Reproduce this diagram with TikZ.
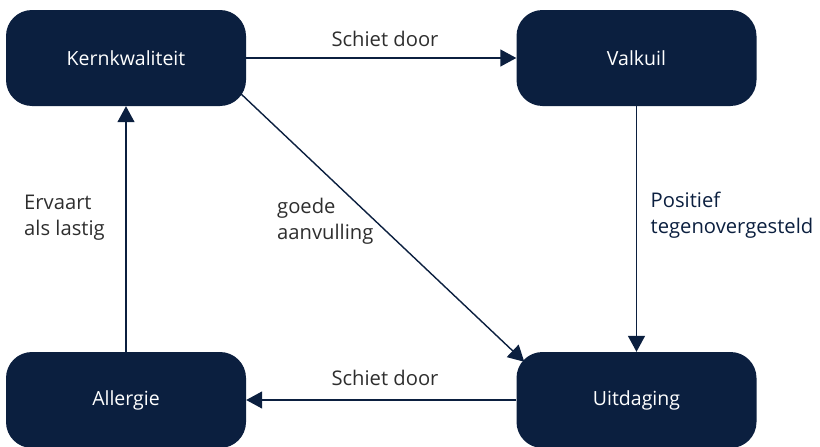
\documentclass[tikz,border=0pt]{standalone}
\usepackage{fontspec}
\setmainfont{Open Sans}
\usetikzlibrary{arrows.meta,calc}
\definecolor{navy}{HTML}{0B1F3F}
\definecolor{labelgray}{HTML}{2E2E2E}
\begin{document}
\begin{tikzpicture}[x=1pt,y=-1pt,
  box/.style={fill=navy,rounded corners=26pt,minimum width=240pt,minimum height=96pt,
    text=white,font=\fontsize{19.5}{23}\selectfont,inner sep=0pt},
  conn/.style={draw=navy,line width=1.4pt,-{Triangle[length=16pt,width=17pt]}},
  lbl/.style={font=\fontsize{20.2}{26}\selectfont,text=labelgray,align=left,inner sep=0pt}]
\useasboundingbox (0,0) rectangle (820,447);
\node[box] (k) at (126,58) {Kernkwaliteit};
\node[box] (v) at (636.5,58) {Valkuil};
\node[box] (a) at (126,400) {Allergie};
\node[box] (u) at (636.5,400) {Uitdaging};
\draw[conn] (k.east) -- (v.west);
\draw[conn] (v.south) -- (u.north);
\draw[conn] (u.west) -- (a.east);
\draw[conn] (a.north) -- (k.south);
\draw[conn] ($(k.south east)+(-7,-14)$) -- ($(u.north west)+(8,10)$);
\node[lbl,anchor=base] (s1) at (385,46) {Schiet door};
\node[lbl,anchor=base] (s2) at (385,385) {Schiet door};
\node[lbl,anchor=north west] (e) at (24,194.5) {Ervaart\\als lastig};
\node[lbl,anchor=north west] (g) at (277,197.5) {goede\\aanvulling};
\node[lbl,anchor=north west,text=navy] (p) at (650.5,191.5) {Positief\\tegenovergesteld};
\end{tikzpicture}
\end{document}
